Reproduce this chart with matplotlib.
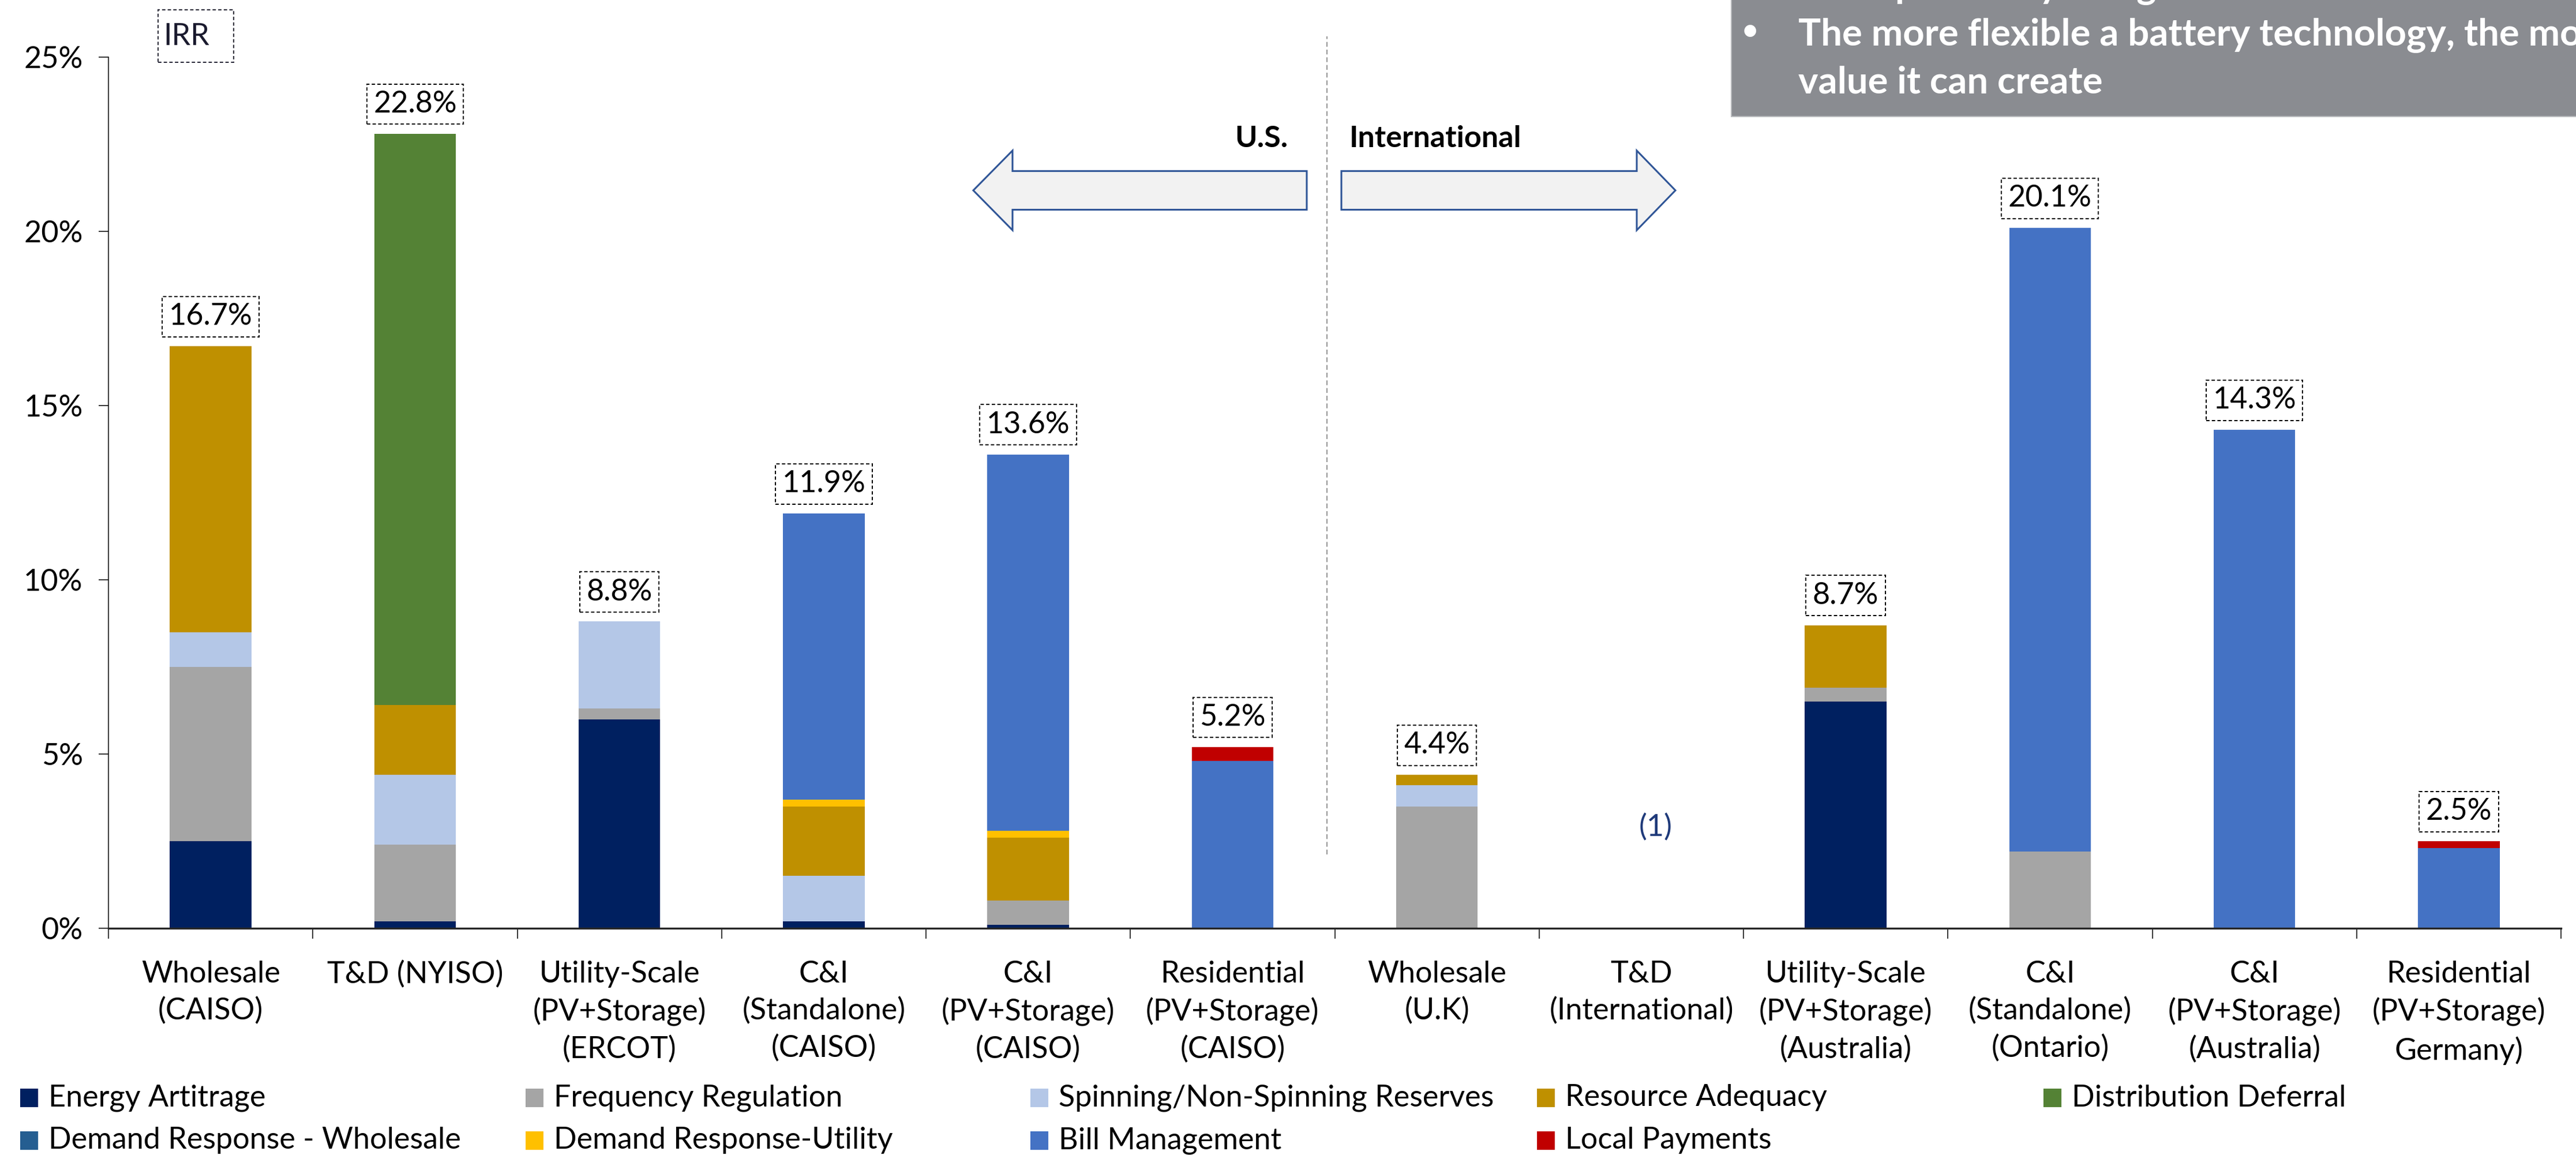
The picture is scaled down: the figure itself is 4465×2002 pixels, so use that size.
import matplotlib
matplotlib.use("Agg")
import matplotlib.pyplot as plt
from matplotlib.patches import Rectangle, Polygon
import numpy as np

plt.rcParams["font.family"] = ["Lato", "DejaVu Sans"]

W, H = 4465, 2002
BODY = 37.5

categories = [
    "Wholesale\n(CAISO)",
    "T&D (NYISO)",
    "Utility-Scale\n(PV+Storage)\n(ERCOT)",
    "C&I\n(Standalone)\n(CAISO)",
    "C&I\n(PV+Storage)\n(CAISO)",
    "Residential\n(PV+Storage)\n(CAISO)",
    "Wholesale\n(U.K)",
    "T&D\n(International)",
    "Utility-Scale\n(PV+Storage)\n(Australia)",
    "C&I\n(Standalone)\n(Ontario)",
    "C&I\n(PV+Storage)\n(Australia)",
    "Residential\n(PV+Storage)\nGermany)",
]

# IRR contribution by value stream (%), stacked bottom to top
energy_arbitrage = [2.5, 0.2, 6.0, 0.2, 0.1, 0, 0, 0, 6.5, 0, 0, 0]
frequency_regulation = [5.0, 2.2, 0.3, 0, 0.7, 0, 3.5, 0, 0.4, 2.2, 0, 0]
spinning_reserves = [1.0, 2.0, 2.5, 1.3, 0, 0, 0.6, 0, 0, 0, 0, 0]
resource_adequacy = [8.2, 2.0, 0, 2.0, 1.8, 0, 0.3, 0, 1.8, 0, 0, 0]
distribution_deferral = [0, 16.4, 0, 0, 0, 0, 0, 0, 0, 0, 0, 0]
dr_wholesale = [0, 0, 0, 0, 0, 0, 0, 0, 0, 0, 0, 0]
dr_utility = [0, 0, 0, 0.2, 0.2, 0, 0, 0, 0, 0, 0, 0]
bill_management = [0, 0, 0, 8.2, 10.8, 4.8, 0, 0, 0, 17.9, 14.3, 2.3]
local_payments = [0, 0, 0, 0, 0, 0.4, 0, 0, 0, 0, 0, 0.2]

series_names = [
    "Energy Artitrage", "Frequency Regulation", "Spinning/Non-Spinning Reserves",
    "Resource Adequacy", "Distribution Deferral",
    "Demand Response - Wholesale", "Demand Response-Utility", "Bill Management",
    "Local Payments",
]
series_values = [
    energy_arbitrage, frequency_regulation, spinning_reserves,
    resource_adequacy, distribution_deferral,
    dr_wholesale, dr_utility, bill_management, local_payments,
]
series_colors = [
    "#002060", "#A5A5A5", "#B4C7E7", "#BF9000", "#548235",
    "#255E91", "#FFC000", "#4472C4", "#C00000",
]


def fx(px):
    return px / W


def fy(py):
    return 1 - py / H


fig = plt.figure(figsize=(W / 100, H / 100), dpi=100)
ax = fig.add_axes([fx(188), fy(1609), fx(4439) - fx(188), fy(99) - fy(1609)])

x = np.arange(len(categories))
bottom = np.zeros(len(categories))
for name, vals, col in zip(series_names, series_values, series_colors):
    vals = np.array(vals, dtype=float)
    ax.bar(x, vals, width=0.4, bottom=bottom, color=col, linewidth=0, label=name)
    bottom += vals

# dashed IRR boxes above each bar
for xi, total in zip(x, bottom):
    if total <= 0:
        continue
    ax.annotate(f"{total:.1f}%", xy=(xi, total), xytext=(0, 37),
                textcoords="offset points", ha="center", va="center",
                fontsize=BODY, color="black",
                bbox=dict(boxstyle="square,pad=0.22", fc="white", ec="black",
                          ls=(0, (3, 2)), lw=1.4))

ax.text(7.07, 2.9, "(1)", color="#1F3A7A", ha="center", va="center", fontsize=BODY)

ax.set_xlim(-0.5, 11.5)
ax.set_ylim(0, 25)
ax.set_yticks(range(0, 26, 5))
ax.set_yticklabels([f"{v}%" for v in range(0, 26, 5)])
ax.set_xticks(x)
ax.set_xticklabels(categories, linespacing=1.42)
ax.set_xticks(np.arange(-0.5, 12), minor=True)
ax.tick_params(axis="x", which="major", length=0, pad=40, labelsize=BODY)
ax.tick_params(axis="x", which="minor", length=13, width=1.1, direction="out")
ax.tick_params(axis="y", length=12, width=1.1, pad=20, labelsize=BODY)
for side in ("top", "right"):
    ax.spines[side].set_visible(False)
ax.spines["left"].set_linewidth(1.1)
ax.spines["bottom"].set_linewidth(2.4)
ax.spines["bottom"].set_color("#262626")

# U.S. / International divider
ax.plot([5.463, 5.463], [2.12, 25.6], ls=(0, (5, 3)), color="#808080",
        lw=1.2, clip_on=False)


def block_arrow(x_tail, x_tip, head_len, yc, shaft_half, head_half):
    s = 1 if x_tip > x_tail else -1
    base = x_tip - s * head_len
    pts = [(x_tail, yc - shaft_half), (base, yc - shaft_half), (base, yc - head_half),
           (x_tip, yc), (base, yc + head_half), (base, yc + shaft_half),
           (x_tail, yc + shaft_half)]
    return Polygon([(fx(a), fy(b)) for a, b in pts], closed=True,
                   transform=fig.transFigure, fc="#F2F2F2", ec="#2F5597", lw=2.2)


fig.patches.append(block_arrow(2265, 1687, 68, 330, 33.5, 69))
fig.patches.append(block_arrow(2325, 2904, 67, 330, 33.5, 69))
fig.text(fx(2232), fy(255), "U.S.", ha="right", va="baseline",
         fontsize=BODY, fontweight="bold")
fig.text(fx(2339), fy(255), "International", ha="left", va="baseline",
         fontsize=BODY, fontweight="bold")

# IRR tag
fig.patches.append(Rectangle((fx(274), fy(108)), fx(405) - fx(274), fy(17) - fy(108),
                             transform=fig.transFigure, fc="white", ec="#222233",
                             ls=(0, (3, 2)), lw=1.4))
fig.text(fx(283), fy(78), "IRR", ha="left", va="baseline", fontsize=BODY,
         color="#1A1A2E")

# takeaway box
fig.patches.append(Rectangle((fx(3001), fy(202)), fx(W + 20) - fx(3001), fy(-20) - fy(202),
                             transform=fig.transFigure, fc="#8A8C91", ec="#B8BABD",
                             lw=1.5))
box_lines = [
    (-4, "Most profitably using stacked revenues", True),
    (79, "The more flexible a battery technology, the more", True),
    (162, "value it can create", False),
]
for base_y, line, bullet in box_lines:
    if bullet:
        fig.text(fx(3033), fy(base_y - 25), "\u2022", ha="center", va="center",
                 fontsize=34, fontweight="bold", color="white")
    fig.text(fx(3117), fy(base_y), line, ha="left", va="baseline",
             fontsize=47, fontweight="bold", color="white")

# legend laid out on a fixed grid
legend_x = [35, 911, 1786, 2664, 3542]
legend_y = [1903, 1977]
for i, (name, col) in enumerate(zip(series_names, series_colors)):
    lx = legend_x[i % 5]
    ly = legend_y[i // 5]
    fig.patches.append(Rectangle((fx(lx), fy(ly + 16)), 31 / W, 32 / H,
                                 transform=fig.transFigure, fc=col, ec="none"))
    fig.text(fx(lx + 49), fy(ly), name, ha="left", va="center", fontsize=BODY)

fig.savefig("out.png", dpi=100)
